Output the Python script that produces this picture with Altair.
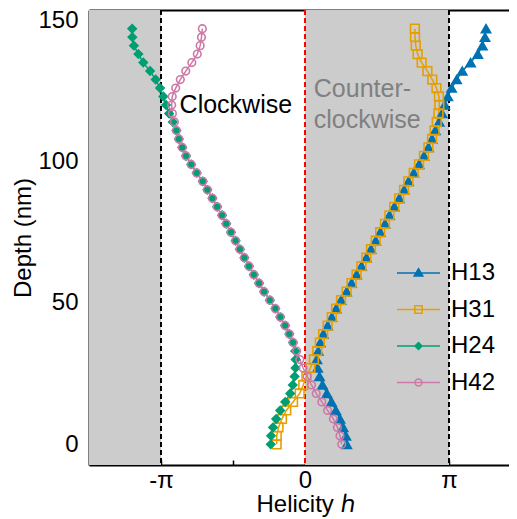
import altair as alt
import pandas as pd

# ---------------- data (helicity in units of pi) ----------------
DEPTH_NM = [0, 3, 6, 9, 12, 15, 18, 21, 24, 27, 30, 33, 36, 39, 42, 45, 48, 51, 54, 57,
            60, 63, 66, 69, 72, 75, 78, 81, 84, 87, 90, 93, 96, 99, 102, 105, 108, 111, 114, 117,
            120, 123, 126, 129, 132, 135, 138, 141, 144, 147]

H13 = [0.290, 0.284, 0.265, 0.243, 0.214, 0.184, 0.152, 0.122, 0.101, 0.088,
       0.083, 0.092, 0.106, 0.127, 0.157, 0.186, 0.216, 0.250, 0.289, 0.323,
       0.358, 0.392, 0.426, 0.458, 0.491, 0.522, 0.555, 0.586, 0.620, 0.654,
       0.688, 0.718, 0.755, 0.792, 0.826, 0.857, 0.882, 0.905, 0.932, 0.952,
       0.970, 0.992, 1.018, 1.053, 1.092, 1.150, 1.200, 1.232, 1.250, 1.257]

H31 = [-0.197, -0.196, -0.184, -0.160, -0.130, -0.083, -0.037, -0.012, 0.010, 0.037,
       0.062, 0.085, 0.103, 0.126, 0.157, 0.186, 0.216, 0.250, 0.289, 0.323,
       0.358, 0.392, 0.426, 0.458, 0.491, 0.522, 0.555, 0.586, 0.620, 0.654,
       0.688, 0.718, 0.755, 0.792, 0.826, 0.857, 0.882, 0.900, 0.915, 0.927,
       0.933, 0.930, 0.913, 0.884, 0.850, 0.810, 0.782, 0.769, 0.764, 0.763]

H24 = [-0.238, -0.236, -0.222, -0.200, -0.172, -0.137, -0.103, -0.085, -0.072, -0.066,
       -0.065, -0.068, -0.083, -0.109, -0.138, -0.172, -0.206, -0.244, -0.284, -0.319,
       -0.355, -0.389, -0.421, -0.452, -0.482, -0.514, -0.547, -0.576, -0.610, -0.643,
       -0.678, -0.710, -0.752, -0.790, -0.826, -0.852, -0.876, -0.893, -0.918, -0.944,
       -0.965, -0.984, -1.007, -1.037, -1.076, -1.123, -1.157, -1.188, -1.199, -1.200]

H42 = [0.255, 0.243, 0.225, 0.197, 0.157, 0.117, 0.078, 0.045, 0.015, -0.013,
       -0.036, -0.058, -0.083, -0.109, -0.138, -0.172, -0.206, -0.244, -0.284, -0.319,
       -0.355, -0.389, -0.421, -0.452, -0.482, -0.514, -0.547, -0.576, -0.610, -0.643,
       -0.678, -0.710, -0.752, -0.790, -0.826, -0.852, -0.876, -0.893, -0.907, -0.921,
       -0.926, -0.922, -0.898, -0.866, -0.828, -0.786, -0.748, -0.728, -0.719, -0.713]

SERIES = ["H13", "H31", "H24", "H42"]
SERIES_VALUES = [H13, H31, H24, H42]

X_TICKS = [-1, -0.5, 0, 0.5, 1]
Y_TICKS = [0, 50, 100, 150]
BAND_START = [-1.5, 0]
BAND_END = [-1, 1]
BOUNDARY_LINES = [-1, 1]
ZERO_LINE = [0]

ANNOT_BLACK = ["Clockwise"]
ANNOT_BLACK_X = [-0.871]
ANNOT_BLACK_D = [117.1]
ANNOT_GRAY = ["Counter-", "clockwise"]
ANNOT_GRAY_X = [0.061, 0.061]
ANNOT_GRAY_D = [123.0, 111.8]

# ---------------- styles ----------------
COLORS = ["#0072B2", "#E69F00", "#009E73", "#CC79A7"]
FILLS = ["#0072B2", "transparent", "#009E73", "transparent"]
SHAPES = ["triangle-up", "square", "diamond", "circle"]
SIZES = [85, 58, 55, 50]
LEGEND_PATHS = [
    "M-1,0H1M0,-0.2L0.2,0.14L-0.2,0.14Z",
    "M-1,0H1M-0.17,-0.17H0.17V0.17H-0.17Z",
    "M-1,0H1M0,-0.16L0.16,0L0,0.16L-0.16,0Z",
    "M-1,0H1M0.16,0A0.16,0.16,0,1,1,-0.16,0A0.16,0.16,0,1,1,0.16,0Z",
]
FONT = "Liberation Sans"

rows = []
for name, vals in zip(SERIES, SERIES_VALUES):
    for d, h in zip(DEPTH_NM, vals):
        rows.append({"series": name, "depth": d, "h": h})
df = pd.DataFrame(rows)

xscale = alt.Scale(domain=[-1.5, 1.41667], nice=False, zero=False)
yscale = alt.Scale(domain=[-7.3, 153.6], nice=False, zero=False)

x_axis_bottom = alt.Axis(
    orient="bottom", values=X_TICKS,
    labelExpr="datum.value == -1 ? '-π' : datum.value == 1 ? 'π' : datum.value == 0 ? '0' : ''",
    tickSize=alt.ExprRef(expr="-5"), tickWidth=1.5, tickColor="black",
    labelPadding=8, domainWidth=2, domainColor="black", grid=False,
    labelFont=FONT, labelFontSize=24, labelColor="black",
    title="Helicity ℎ", titleX=216.5, titleY=27, titleBaseline="top",
    titleFont=FONT, titleFontSize=24, titleFontWeight="normal", titleColor="black",
)
x_axis_top = alt.Axis(orient="top", domain=True, domainWidth=2, domainColor="black",
                      ticks=False, labels=False, grid=False, title=None)
y_axis = alt.Axis(
    orient="left", values=Y_TICKS, tickSize=alt.ExprRef(expr="-9"), tickWidth=1.5,
    tickColor="black", labelPadding=20, domainWidth=2, domainColor="black", grid=False,
    labelFont=FONT, labelFontSize=24, labelColor="black",
    title="Depth (nm)", titlePadding=2,
    titleFont=FONT, titleFontSize=24, titleFontWeight="normal", titleColor="black",
)

bands = alt.Chart(pd.DataFrame({"start": BAND_START, "end": BAND_END})).mark_rect(
    color="#cccccc").encode(
    x=alt.X("start:Q", scale=xscale, axis=x_axis_bottom),
    x2="end:Q",
)

rules_black = alt.Chart(pd.DataFrame({"h": BOUNDARY_LINES})).mark_rule(
    color="black", strokeDash=[5, 3], strokeWidth=2).encode(
    x=alt.X("h:Q", scale=xscale, axis=x_axis_top),
)
rule_red = alt.Chart(pd.DataFrame({"h": ZERO_LINE})).mark_rule(
    color="#ff0000", strokeDash=[5, 3], strokeWidth=2).encode(
    x=alt.X("h:Q", scale=xscale, axis=None),
)

stroke_scale = alt.Scale(domain=SERIES, range=COLORS)

lines = alt.Chart(df).mark_line(strokeWidth=1.5).encode(
    x=alt.X("h:Q", scale=xscale, axis=None),
    y=alt.Y("depth:Q", scale=yscale, axis=y_axis),
    stroke=alt.Stroke("series:N", scale=stroke_scale, legend=None),
    order="depth:Q",
)

points = alt.Chart(df).mark_point(opacity=1, strokeWidth=1.6).encode(
    x=alt.X("h:Q", scale=xscale, axis=None),
    y=alt.Y("depth:Q", scale=yscale, axis=None),
    stroke=alt.Stroke("series:N", scale=stroke_scale, legend=None),
    fill=alt.Fill("series:N", scale=alt.Scale(domain=SERIES, range=FILLS), legend=None),
    shape=alt.Shape("series:N", scale=alt.Scale(domain=SERIES, range=SHAPES), legend=None),
    size=alt.Size("series:N", scale=alt.Scale(domain=SERIES, range=SIZES), legend=None),
)

leg = alt.Legend(orient="none", legendX=307, legendY=248, title=None, symbolSize=1849,
                 clipHeight=30, rowPadding=6.5, labelOffset=10, padding=0,
                 labelFontSize=24, labelFont=FONT, labelColor="black", symbolStrokeWidth=1.5)

legend_layer = alt.Chart(df).transform_filter("false").mark_point(
    opacity=1, strokeWidth=1.5).encode(
    stroke=alt.Stroke("series:N", scale=alt.Scale(domain=SERIES, range=COLORS), legend=leg),
    fill=alt.Fill("series:N", scale=alt.Scale(domain=SERIES, range=FILLS), legend=leg),
    shape=alt.Shape("series:N", scale=alt.Scale(domain=SERIES, range=LEGEND_PATHS), legend=leg),
)

text_black = alt.Chart(pd.DataFrame({"t": ANNOT_BLACK, "x": ANNOT_BLACK_X, "d": ANNOT_BLACK_D})).mark_text(
    align="left", baseline="alphabetic", font=FONT, fontSize=25, color="black").encode(
    x=alt.X("x:Q", scale=xscale, axis=None),
    y=alt.Y("d:Q", scale=yscale, axis=None),
    text="t:N",
)
text_gray = alt.Chart(pd.DataFrame({"t": ANNOT_GRAY, "x": ANNOT_GRAY_X, "d": ANNOT_GRAY_D})).mark_text(
    align="left", baseline="alphabetic", font=FONT, fontSize=25, color="#808080").encode(
    x=alt.X("x:Q", scale=xscale, axis=None),
    y=alt.Y("d:Q", scale=yscale, axis=None),
    text="t:N",
)

chart = alt.layer(
    bands, rules_black, rule_red, lines, points, text_black, text_gray, legend_layer
).resolve_scale(
    stroke="independent", fill="independent", shape="independent", size="independent"
).resolve_axis(
    x="independent", y="independent"
).properties(
    width=420, height=455,
    autosize=alt.AutoSizeParams(type="none"),
    padding={"left": 81, "top": 2, "right": 0, "bottom": 56},
    background="white",
).configure_view(
    stroke=None
)

chart.save("out.html", embed_options={"renderer": "svg", "actions": False})
